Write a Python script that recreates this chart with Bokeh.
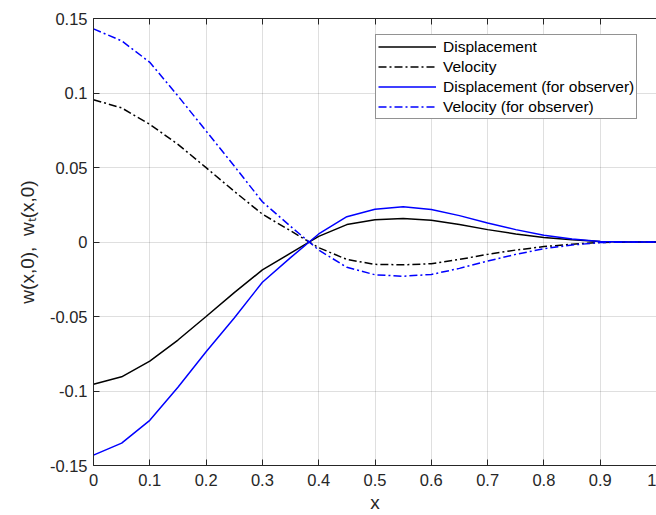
import math
from bokeh.plotting import figure
from bokeh.models import Legend, LegendItem, LinearAxis, FixedTicker, Range1d
from bokeh.embed import file_html
from bokeh.resources import INLINE

# ---- data ----
x = [0.0, 0.05, 0.1, 0.15, 0.2, 0.25, 0.3, 0.35, 0.4, 0.45, 0.5,
     0.55, 0.6, 0.65, 0.7, 0.75, 0.8, 0.85, 0.9, 0.95, 1.0]
displacement = [-0.0955, -0.0905, -0.0800, -0.0658, -0.0500, -0.0340, -0.0187, -0.0075,
                0.0038, 0.0117, 0.0150, 0.0157, 0.0146, 0.0117, 0.0083, 0.0054,
                0.0031, 0.0015, 0.0003, 0.0, 0.0]
velocity = [0.0955, 0.0900, 0.0790, 0.0655, 0.0499, 0.0340, 0.0187, 0.0075,
            -0.0038, -0.0117, -0.0150, -0.0153, -0.0146, -0.0117, -0.0083, -0.0054,
            -0.0031, -0.0015, -0.0003, 0.0, 0.0]
disp_obs = [-0.1430, -0.1350, -0.1197, -0.0975, -0.0737, -0.0510, -0.0270, -0.0105,
            0.0054, 0.0170, 0.0220, 0.0236, 0.0218, 0.0177, 0.0128, 0.0083,
            0.0045, 0.0020, 0.0004, 0.0, 0.0]
vel_obs = [0.1430, 0.1350, 0.1206, 0.0980, 0.0745, 0.0510, 0.0270, 0.0105,
           -0.0054, -0.0170, -0.0220, -0.0230, -0.0218, -0.0177, -0.0128, -0.0083,
           -0.0045, -0.0020, -0.0004, 0.0, 0.0]

x_ticks = [0, 0.1, 0.2, 0.3, 0.4, 0.5, 0.6, 0.7, 0.8, 0.9, 1]
x_tick_labels = ["0", "0.1", "0.2", "0.3", "0.4", "0.5", "0.6", "0.7", "0.8", "0.9", "1"]
y_ticks = [-0.15, -0.1, -0.05, 0, 0.05, 0.1, 0.15]
y_tick_labels = ["-0.15", "-0.1", "-0.05", "0", "0.05", "0.1", "0.15"]
series_names = ["Displacement", "Velocity", "Displacement (for observer)", "Velocity (for observer)"]
x_label = "x"
y_label = "w(x,0),\u00a0\u00a0w\u209c(x,0)"

FONT = "Liberation Sans"
AX = "#262626"

p = figure(width=656, height=515, output_backend="svg", toolbar_location=None,
           x_range=Range1d(0, 1), y_range=Range1d(-0.15, 0.15),
           min_border_left=93, min_border_right=0, min_border_top=18, min_border_bottom=50)
p.outline_line_color = None
p.background_fill_color = "white"
p.border_fill_color = "white"

# grids
p.xgrid.ticker = FixedTicker(ticks=x_ticks)
p.ygrid.ticker = FixedTicker(ticks=y_ticks)
for g in (p.xgrid, p.ygrid):
    g.grid_line_color = AX
    g.grid_line_alpha = 0.15
    g.grid_line_width = 1

# axes
xa = p.xaxis[0]
xa.ticker = FixedTicker(ticks=x_ticks)
xa.major_label_overrides = {t: l for t, l in zip(x_ticks, x_tick_labels)}
ya = p.yaxis[0]
ya.ticker = FixedTicker(ticks=y_ticks)
ya.major_label_overrides = {t: l for t, l in zip(y_ticks, y_tick_labels)}
for a in (xa, ya):
    a.major_tick_in = 6
    a.major_tick_out = 0
    a.minor_tick_in = 0
    a.minor_tick_out = 0
    a.axis_line_color = AX
    a.major_tick_line_color = AX
    a.major_label_text_font = FONT
    a.major_label_text_font_size = "16.5px"
    a.major_label_text_color = AX
    a.axis_label_text_font = FONT
    a.axis_label_text_font_style = "normal"
    a.axis_label_text_color = AX
xa.major_label_standoff = 8
ya.major_label_standoff = 6

xa.axis_label = x_label
xa.axis_label_text_font_size = "19px"
xa.axis_label_standoff = 3
ya.axis_label = y_label
ya.axis_label_text_font_size = "19px"
ya.axis_label_standoff = 9

top = LinearAxis(ticker=FixedTicker(ticks=x_ticks),
                 major_label_overrides={t: "" for t in x_ticks},
                 major_tick_in=6, major_tick_out=0, minor_tick_in=0, minor_tick_out=0,
                 major_label_standoff=0, major_label_text_font_size="0px",
                 axis_line_color=AX, major_tick_line_color=AX)
p.add_layout(top, "above")

# lines
dd = "8 3 2 3"
r1 = p.line(x, displacement, line_color="black", line_width=1.5)
r2 = p.line(x, velocity, line_color="black", line_width=1.5, line_dash=dd)
r3 = p.line(x, disp_obs, line_color="#0000ff", line_width=1.5)
r4 = p.line(x, vel_obs, line_color="#0000ff", line_width=1.5, line_dash=dd)

legend = Legend(items=[LegendItem(label=n, renderers=[r]) for n, r in zip(series_names, [r1, r2, r3, r4])],
                location=(282, 346), margin=0, padding=2, spacing=1,
                glyph_width=58, glyph_height=19, label_height=19, label_standoff=7,
                label_text_font=FONT, label_text_font_size="15.5px", label_text_color="black",
                border_line_color=AX, border_line_width=1, background_fill_alpha=1.0)
p.add_layout(legend)

open("out.html", "w").write(file_html(p, INLINE))
